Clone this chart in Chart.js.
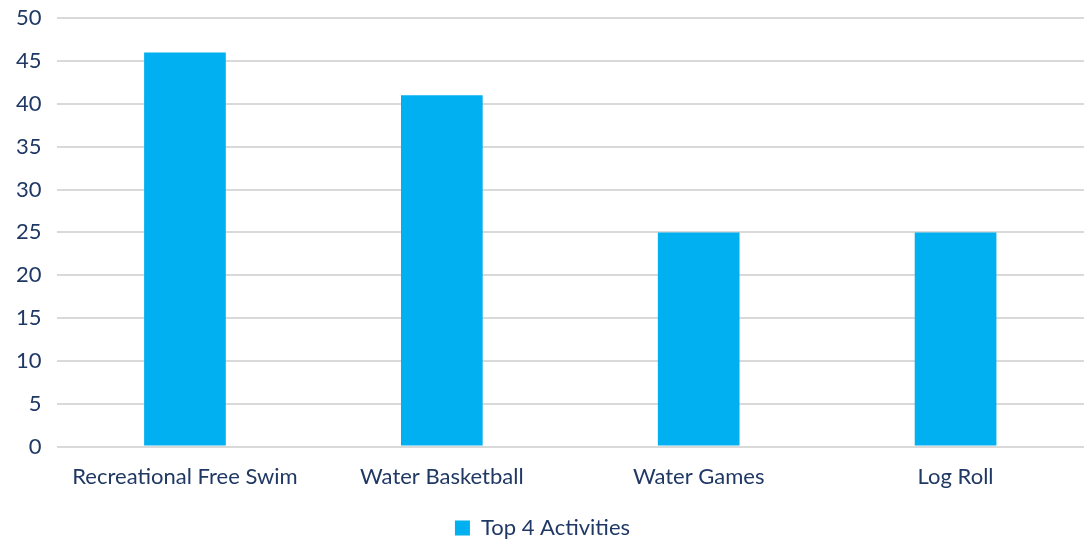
<!DOCTYPE html>
<html>
<head>
<meta charset="utf-8">
<script src="https://cdn.jsdelivr.net/npm/chart.js@4"></script>
<style>
  html, body { margin: 0; padding: 0; background: #fff; overflow: hidden; }
  #wrap { position: absolute; left: 0; top: -10px; width: 1084px; height: 549px; }
</style>
</head>
<body>
<div id="wrap"><canvas id="chart"></canvas></div>
<script>
const categories = ['Recreational Free Swim', 'Water Basketball', 'Water Games', 'Log Roll'];
const seriesName = 'Top 4 Activities';
const seriesValues = [46, 41, 25, 25];

const textColor = '#1F3864';
Chart.defaults.font.family = 'Lato, "Open Sans", sans-serif';
Chart.defaults.font.size = 22;
Chart.defaults.color = textColor;

new Chart(document.getElementById('chart'), {
    type: 'bar',
    data: {
        labels: categories,
        datasets: [{
            label: seriesName,
            data: seriesValues,
            backgroundColor: '#00B0F0',
            borderWidth: 0,
            categoryPercentage: 1,
            barPercentage: 0.318
        }]
    },
    options: {
        responsive: true,
        maintainAspectRatio: false,
        animation: false,
        layout: { padding: { top: -15, right: 0, left: 1, bottom: -10 } },
        plugins: {
            tooltip: { enabled: false },
            legend: {
                position: 'bottom',
                labels: {
                    boxWidth: 15,
                    boxHeight: 15,
                    padding: 18,
                    color: textColor,
                    font: { size: 22 }
                }
            }
        },
        scales: {
            x: {
                grid: { display: false },
                border: { display: false },
                ticks: { padding: 9 }
            },
            y: {
                min: 0,
                max: 50,
                ticks: { stepSize: 5, padding: 15 },
                grid: { color: '#D9D9D9', lineWidth: 2, drawTicks: false },
                border: { display: false }
            }
        }
    }
});
</script>
</body>
</html>
